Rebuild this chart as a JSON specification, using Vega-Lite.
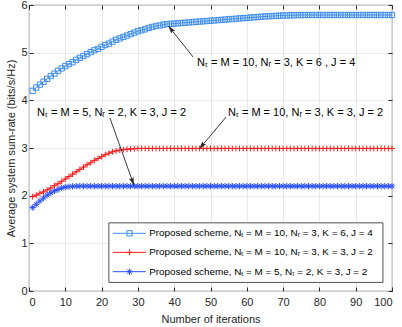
{
  "$schema": "https://vega.github.io/schema/vega-lite/v6.json",
  "autosize": "none",
  "width": 363,
  "height": 286,
  "padding": {"left": 29, "top": 5, "right": 10, "bottom": 36},
  "background": "white",
  "config": {
    "font": "Liberation Sans",
    "view": {"stroke": "#262626", "strokeWidth": 0.8},
    "axis": {
      "labelFont": "Liberation Sans", "titleFont": "Liberation Sans",
      "labelFontSize": 11, "titleFontSize": 11, "labelColor": "#262626", "titleColor": "#262626",
      "titleFontWeight": "normal", "domain": false, "tickColor": "#262626", "tickSize": -4,
      "gridColor": "#e3e3e3", "gridWidth": 0.8
    }
  },
  "datasets": {
    "curves": [
      {"x":1,"A":4.20,"B":1.98,"C":1.75},{"x":2,"A":4.27,"B":2.01,"C":1.82},{"x":3,"A":4.33,"B":2.05,"C":1.89},{"x":4,"A":4.39,"B":2.08,"C":1.95},{"x":5,"A":4.45,"B":2.12,"C":2.01},
      {"x":6,"A":4.51,"B":2.16,"C":2.06},{"x":7,"A":4.56,"B":2.21,"C":2.10},{"x":8,"A":4.62,"B":2.25,"C":2.13},{"x":9,"A":4.67,"B":2.30,"C":2.16},{"x":10,"A":4.72,"B":2.35,"C":2.18},
      {"x":11,"A":4.76,"B":2.40,"C":2.19},{"x":12,"A":4.80,"B":2.45,"C":2.195},{"x":13,"A":4.85,"B":2.50,"C":2.2},{"x":14,"A":4.89,"B":2.55,"C":2.2},{"x":15,"A":4.93,"B":2.60,"C":2.2},
      {"x":16,"A":4.97,"B":2.65,"C":2.2},{"x":17,"A":5.01,"B":2.69,"C":2.2},{"x":18,"A":5.05,"B":2.74,"C":2.2},{"x":19,"A":5.08,"B":2.78,"C":2.2},{"x":20,"A":5.12,"B":2.82,"C":2.2},
      {"x":21,"A":5.16,"B":2.86,"C":2.2},{"x":22,"A":5.19,"B":2.89,"C":2.2},{"x":23,"A":5.23,"B":2.92,"C":2.2},{"x":24,"A":5.27,"B":2.94,"C":2.2},{"x":25,"A":5.30,"B":2.955,"C":2.2},
      {"x":26,"A":5.33,"B":2.965,"C":2.2},{"x":27,"A":5.36,"B":2.975,"C":2.2},{"x":28,"A":5.39,"B":2.98,"C":2.2},{"x":29,"A":5.42,"B":2.985,"C":2.2},{"x":30,"A":5.45,"B":2.99,"C":2.2},
      {"x":31,"A":5.47,"B":2.99,"C":2.2},{"x":32,"A":5.49,"B":2.99,"C":2.2},{"x":33,"A":5.52,"B":2.99,"C":2.2},{"x":34,"A":5.54,"B":2.99,"C":2.2},{"x":35,"A":5.56,"B":2.99,"C":2.2},
      {"x":36,"A":5.57,"B":2.99,"C":2.2},{"x":37,"A":5.59,"B":2.99,"C":2.2},{"x":38,"A":5.60,"B":2.99,"C":2.2},{"x":39,"A":5.605,"B":2.99,"C":2.2},{"x":40,"A":5.61,"B":2.99,"C":2.2},
      {"x":41,"A":5.616,"B":2.99,"C":2.2},{"x":42,"A":5.622,"B":2.99,"C":2.2},{"x":43,"A":5.628,"B":2.99,"C":2.2},{"x":44,"A":5.634,"B":2.99,"C":2.2},{"x":45,"A":5.64,"B":2.99,"C":2.2},
      {"x":46,"A":5.646,"B":2.99,"C":2.2},{"x":47,"A":5.652,"B":2.99,"C":2.2},{"x":48,"A":5.658,"B":2.99,"C":2.2},{"x":49,"A":5.664,"B":2.99,"C":2.2},{"x":50,"A":5.67,"B":2.99,"C":2.2},
      {"x":51,"A":5.676,"B":2.99,"C":2.2},{"x":52,"A":5.682,"B":2.99,"C":2.2},{"x":53,"A":5.688,"B":2.99,"C":2.2},{"x":54,"A":5.694,"B":2.99,"C":2.2},{"x":55,"A":5.70,"B":2.99,"C":2.2},
      {"x":56,"A":5.706,"B":2.99,"C":2.2},{"x":57,"A":5.712,"B":2.99,"C":2.2},{"x":58,"A":5.718,"B":2.99,"C":2.2},{"x":59,"A":5.724,"B":2.99,"C":2.2},{"x":60,"A":5.73,"B":2.99,"C":2.2},
      {"x":61,"A":5.736,"B":2.99,"C":2.2},{"x":62,"A":5.742,"B":2.99,"C":2.2},{"x":63,"A":5.748,"B":2.99,"C":2.2},{"x":64,"A":5.754,"B":2.99,"C":2.2},{"x":65,"A":5.76,"B":2.99,"C":2.2},
      {"x":66,"A":5.764,"B":2.99,"C":2.2},{"x":67,"A":5.768,"B":2.99,"C":2.2},{"x":68,"A":5.772,"B":2.99,"C":2.2},{"x":69,"A":5.776,"B":2.99,"C":2.2},{"x":70,"A":5.78,"B":2.99,"C":2.2},
      {"x":71,"A":5.782,"B":2.99,"C":2.2},{"x":72,"A":5.784,"B":2.99,"C":2.2},{"x":73,"A":5.786,"B":2.99,"C":2.2},{"x":74,"A":5.788,"B":2.99,"C":2.2},{"x":75,"A":5.79,"B":2.99,"C":2.2},
      {"x":76,"A":5.79,"B":2.99,"C":2.2},{"x":77,"A":5.79,"B":2.99,"C":2.2},{"x":78,"A":5.79,"B":2.99,"C":2.2},{"x":79,"A":5.79,"B":2.99,"C":2.2},{"x":80,"A":5.79,"B":2.99,"C":2.2},
      {"x":81,"A":5.79,"B":2.99,"C":2.2},{"x":82,"A":5.79,"B":2.99,"C":2.2},{"x":83,"A":5.79,"B":2.99,"C":2.2},{"x":84,"A":5.79,"B":2.99,"C":2.2},{"x":85,"A":5.79,"B":2.99,"C":2.2},
      {"x":86,"A":5.79,"B":2.99,"C":2.2},{"x":87,"A":5.79,"B":2.99,"C":2.2},{"x":88,"A":5.79,"B":2.99,"C":2.2},{"x":89,"A":5.79,"B":2.99,"C":2.2},{"x":90,"A":5.79,"B":2.99,"C":2.2},
      {"x":91,"A":5.79,"B":2.99,"C":2.2},{"x":92,"A":5.79,"B":2.99,"C":2.2},{"x":93,"A":5.79,"B":2.99,"C":2.2},{"x":94,"A":5.79,"B":2.99,"C":2.2},{"x":95,"A":5.79,"B":2.99,"C":2.2},
      {"x":96,"A":5.79,"B":2.99,"C":2.2},{"x":97,"A":5.79,"B":2.99,"C":2.2},{"x":98,"A":5.79,"B":2.99,"C":2.2},{"x":99,"A":5.79,"B":2.99,"C":2.2},{"x":100,"A":5.79,"B":2.99,"C":2.2}
    ],
    "arrows": [
      {"x":45.2,"y":4.91,"x2":38.4,"y2":5.56,"angle":321.7},
      {"x":22.3,"y":3.63,"x2":28.9,"y2":2.22,"angle":160.1},
      {"x":54.3,"y":3.65,"x2":46.9,"y2":2.98,"angle":219.6}
    ],
    "notes": [
      {"x":46.3,"y":4.78,"t":"Nₜ = M = 10, Nᵣ = 3, K = 6 , J = 4"},
      {"x":2.2,"y":3.73,"t":"Nₜ = M = 5, Nᵣ = 2, K = 3, J = 2"},
      {"x":54.8,"y":3.73,"t":"Nₜ = M = 10, Nᵣ = 3, K = 3, J = 2"}
    ],
    "legendbox": [{"x":22.0,"x2":97.5,"y":1.43,"y2":0.18}],
    "legend": [
      {"s":"A","x":23.1,"x2":32.2,"xm":27.7,"xt":33.1,"y":1.21,"t":"Proposed scheme, Nₜ = M = 10, Nᵣ = 3, K = 6, J = 4"},
      {"s":"B","x":23.1,"x2":32.2,"xm":27.7,"xt":33.1,"y":0.81,"t":"Proposed scheme, Nₜ = M = 10, Nᵣ = 3, K = 3, J = 2"},
      {"s":"C","x":23.1,"x2":32.2,"xm":27.7,"xt":33.1,"y":0.405,"t":"Proposed scheme, Nₜ = M = 5, Nᵣ = 2, K = 3, J = 2"}
    ]
  },
  "resolve": {"axis": {"x": "independent", "y": "independent"}},
  "layer": [
    {
      "data": {"name": "curves"},
      "transform": [{"fold": ["A", "B", "C"], "as": ["s", "v"]}],
      "mark": {"type": "line", "strokeWidth": 1},
      "encoding": {
        "x": {"field": "x", "type": "quantitative", "scale": {"domain": [0, 100], "nice": false},
              "axis": {"orient": "bottom", "values": [0,10,20,30,40,50,60,70,80,90,100], "title": "Number of iterations", "labelPadding": 9, "titlePadding": 6}},
        "y": {"field": "v", "type": "quantitative", "scale": {"domain": [0, 6], "nice": false},
              "axis": {"orient": "left", "values": [0,1,2,3,4,5,6], "title": "Average system sum-rate (bits/s/Hz)", "labelPadding": 6, "titlePadding": 4}},
        "detail": {"field": "s"},
        "color": {"field": "s", "type": "nominal", "scale": {"domain": ["A","B","C"], "range": ["#3c8cf0","#ff1a1a","#2a50ff"]}, "legend": null}
      }
    },
    {
      "data": {"name": "curves"},
      "transform": [{"fold": ["A", "B", "C"], "as": ["s", "v"]}],
      "mark": {"type": "point", "filled": false, "strokeWidth": 1, "opacity": 1},
      "encoding": {
        "x": {"field": "x", "type": "quantitative", "axis": {"orient": "top", "values": [0,10,20,30,40,50,60,70,80,90,100], "labels": false, "title": null, "grid": false}},
        "y": {"field": "v", "type": "quantitative", "axis": {"orient": "right", "values": [0,1,2,3,4,5,6], "labels": false, "title": null, "grid": false}},
        "color": {"field": "s", "type": "nominal", "legend": null},
        "shape": {"field": "s", "type": "nominal", "legend": null, "scale": {"domain": ["A","B","C"], "range": ["square", "M-1,0L1,0M0,-1L0,1", "M-1,0L1,0M0,-1L0,1M-0.7,-0.7L0.7,0.7M-0.7,0.7L0.7,-0.7"]}},
        "size": {"field": "s", "type": "nominal", "legend": null, "scale": {"domain": ["A","B","C"], "range": [28, 40, 30]}}
      }
    },
    {
      "data": {"name": "arrows"},
      "mark": {"type": "rule", "color": "#262626", "strokeWidth": 0.9},
      "encoding": {
        "x": {"field": "x", "type": "quantitative", "axis": null}, "y": {"field": "y", "type": "quantitative", "axis": null},
        "x2": {"field": "x2"}, "y2": {"field": "y2"}
      }
    },
    {
      "data": {"name": "arrows"},
      "mark": {"type": "point", "shape": "M0,0L-0.6,2L0,1.6L0.6,2Z", "filled": true, "color": "#262626", "size": 64, "opacity": 1},
      "encoding": {
        "x": {"field": "x2", "type": "quantitative", "axis": null}, "y": {"field": "y2", "type": "quantitative", "axis": null},
        "angle": {"field": "angle", "type": "quantitative", "scale": null}
      }
    },
    {
      "data": {"name": "notes"},
      "mark": {"type": "text", "align": "left", "baseline": "middle", "fontSize": 11, "color": "#000000"},
      "encoding": {
        "x": {"field": "x", "type": "quantitative", "axis": null}, "y": {"field": "y", "type": "quantitative", "axis": null},
        "text": {"field": "t"}
      }
    },
    {
      "data": {"name": "legendbox"},
      "mark": {"type": "rect", "fill": "white", "stroke": "#262626", "strokeWidth": 0.8},
      "encoding": {
        "x": {"field": "x", "type": "quantitative", "axis": null}, "x2": {"field": "x2"},
        "y": {"field": "y", "type": "quantitative", "axis": null}, "y2": {"field": "y2"}
      }
    },
    {
      "data": {"name": "legend"},
      "mark": {"type": "rule", "strokeWidth": 1},
      "encoding": {
        "x": {"field": "x", "type": "quantitative", "axis": null}, "x2": {"field": "x2"},
        "y": {"field": "y", "type": "quantitative", "axis": null},
        "color": {"field": "s", "type": "nominal", "legend": null}
      }
    },
    {
      "data": {"name": "legend"},
      "mark": {"type": "point", "filled": false, "strokeWidth": 1, "opacity": 1},
      "encoding": {
        "x": {"field": "xm", "type": "quantitative", "axis": null}, "y": {"field": "y", "type": "quantitative", "axis": null},
        "color": {"field": "s", "type": "nominal", "legend": null},
        "shape": {"field": "s", "type": "nominal", "legend": null},
        "size": {"field": "s", "type": "nominal", "legend": null}
      }
    },
    {
      "data": {"name": "legend"},
      "mark": {"type": "text", "align": "left", "baseline": "middle", "fontSize": 9.9, "color": "#000000"},
      "encoding": {
        "x": {"field": "xt", "type": "quantitative", "axis": null}, "y": {"field": "y", "type": "quantitative", "axis": null},
        "text": {"field": "t"}
      }
    }
  ]
}
